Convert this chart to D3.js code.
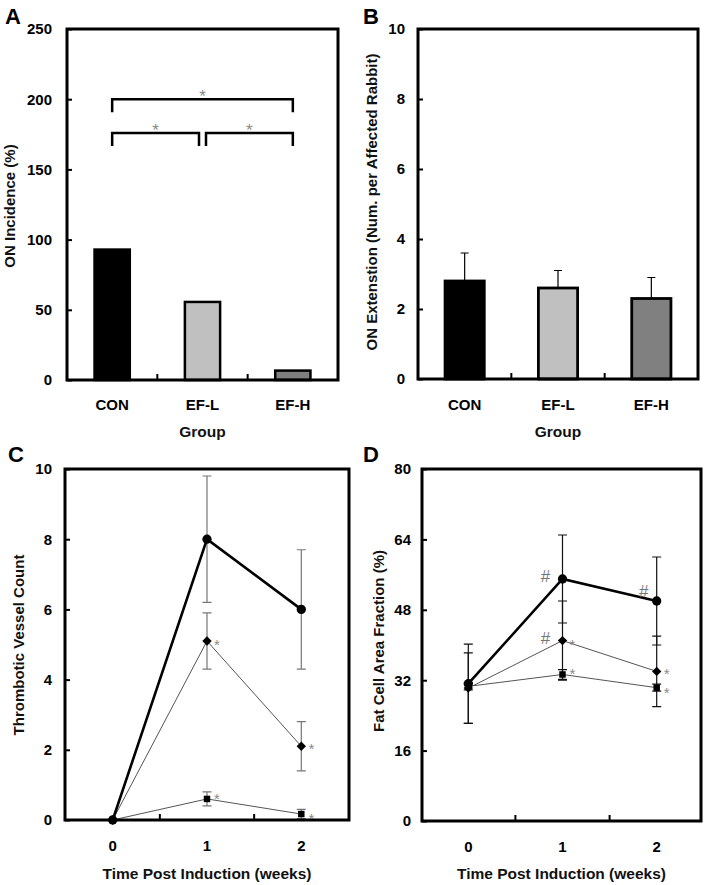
<!DOCTYPE html>
<html><head><meta charset="utf-8">
<script src="https://cdn.jsdelivr.net/npm/d3@7"></script>
<style>
body{margin:0;background:#fff;}
svg text{font-family:"Liberation Sans",Arial,sans-serif;}
</style></head><body>
<svg id="chart" width="707" height="885"></svg>
<script>
// ---------- data ----------
const groups = ["CON", "EF-L", "EF-H"];
const incidence = [92.9, 55.6, 6.7];
const incidenceTicks = [0, 50, 100, 150, 200, 250];
const bracketFrom = ["CON", "CON", "EF-L"];
const bracketTo = ["EF-H", "EF-L", "EF-H"];
const bracketLevel = [200, 176, 176];
const bracketLabel = ["*", "*", "*"];

const extension = [2.8, 2.6, 2.3];
const extensionErr = [0.8, 0.5, 0.6];
const extensionTicks = [0, 2, 4, 6, 8, 10];

const weeks = [0, 1, 2];
const thrombCON = [0, 8.0, 6.0];
const thrombCONErr = [0, 1.8, 1.7];
const thrombEFL = [0, 5.1, 2.1];
const thrombEFLErr = [0, 0.8, 0.7];
const thrombEFH = [0, 0.6, 0.17];
const thrombEFHErr = [0, 0.2, 0.13];
const thrombTicks = [0, 2, 4, 6, 8, 10];
const thrombMarks = [["EF-L", 1, "*"], ["EF-L", 2, "*"], ["EF-H", 1, "*"], ["EF-H", 2, "*"]];

const fatCON = [31.2, 55, 50];
const fatCONErr = [9, 10, 10];
const fatEFL = [30.2, 41, 34];
const fatEFLErr = [8, 9, 8];
const fatEFH = [30.6, 33.3, 30.3];
const fatEFHErr = [0.8, 1.1, 0.8];
const fatTicks = [0, 16, 32, 48, 64, 80];
const fatMarks = [["CON", 1, "#"], ["CON", 2, "#"], ["EF-L", 1, "#"], ["EF-L", 1, "*"], ["EF-L", 2, "*"], ["EF-H", 1, "*"], ["EF-H", 2, "*"]];

// ---------- helpers ----------
const svg = d3.select("#chart");
const FONT = '"Liberation Sans", Arial, sans-serif';
const barFill = {"CON": "#000000", "EF-L": "#c0c0c0", "EF-H": "#808080"};

function frame(b) {
  svg.append("rect").attr("x", b.x0).attr("y", b.y0)
    .attr("width", b.x1 - b.x0).attr("height", b.y1 - b.y0)
    .attr("fill", "none").attr("stroke", "#000").attr("stroke-width", 3);
}
function yAxis(y, ticks, x0, pad) {
  const a = svg.append("g").attr("transform", `translate(${x0},0)`)
    .call(d3.axisLeft(y).tickValues(ticks).tickSize(-5).tickPadding(pad).tickFormat(d3.format("d")));
  a.select(".domain").remove();
  a.selectAll(".tick line").attr("stroke", "#000").attr("stroke-width", 2);
  a.selectAll(".tick text").attr("font-size", 15).attr("font-weight", "bold")
    .attr("font-family", FONT).attr("fill", "#000");
}
function letter(t, x, y) {
  svg.append("text").attr("x", x).attr("y", y).attr("font-size", 22)
    .attr("font-weight", "bold").text(t);
}
function xTitle(t, x, y) {
  svg.append("text").attr("x", x).attr("y", y).attr("text-anchor", "middle")
    .attr("font-size", 15.5).attr("font-weight", "bold").attr("fill", "#111").text(t);
}
function yTitle(t, x, y) {
  svg.append("text").attr("transform", `translate(${x},${y}) rotate(-90)`)
    .attr("text-anchor", "middle").attr("font-size", 15).attr("font-weight", "bold")
    .attr("fill", "#111").text(t);
}
function minorX(xs, yBase) {
  svg.append("g").selectAll("line").data(xs).join("line")
    .attr("x1", d => d).attr("x2", d => d).attr("y1", yBase).attr("y2", yBase - 6)
    .attr("stroke", "#000").attr("stroke-width", 2);
}

// ---------- Panel A ----------
const A = {x0: 67, x1: 338, y0: 29, y1: 380};
const xA = d3.scaleBand().domain(groups).range([A.x0, A.x1]).paddingInner(0.61).paddingOuter(0.305);
const yA = d3.scaleLinear().domain([0, 250]).range([A.y1, A.y0]);
const cA = g => xA(g) + xA.bandwidth() / 2;

svg.append("g").selectAll("rect").data(groups).join("rect")
  .attr("x", g => xA(g)).attr("width", xA.bandwidth())
  .attr("y", (g, i) => yA(incidence[i])).attr("height", (g, i) => yA(0) - yA(incidence[i]))
  .attr("fill", g => barFill[g]).attr("stroke", "#000").attr("stroke-width", 2.5);

const br = svg.append("g");
bracketLevel.forEach((lv, i) => {
  const adjacent = groups.indexOf(bracketTo[i]) - groups.indexOf(bracketFrom[i]) === 1;
  const xa = cA(bracketFrom[i]) + (adjacent && bracketFrom[i] !== "CON" ? 3.5 : 0);
  const xb = cA(bracketTo[i]) - (adjacent && bracketTo[i] !== "EF-H" ? 3.5 : 0);
  const yy = yA(lv);
  br.append("path").attr("d", `M${xa},${yy + 13}V${yy}H${xb}V${yy + 13}`)
    .attr("fill", "none").attr("stroke", "#000").attr("stroke-width", 2.5);
  br.append("text").attr("x", (xa + xb) / 2).attr("y", yy + 3).attr("text-anchor", "middle")
    .attr("font-size", 17).attr("fill", "#8a8a8a").text(bracketLabel[i]);
});
yAxis(yA, incidenceTicks, A.x0, 15);
minorX(groups.slice(1).map(g => xA(g) - xA.step() * 0.61 / 2), A.y1);
svg.append("g").selectAll("text").data(groups).join("text")
  .attr("x", cA).attr("y", A.y1 + 30).attr("text-anchor", "middle")
  .attr("font-size", 15).attr("font-weight", "bold").text(d => d);
frame(A);
letter("A", 5, 24);
xTitle("Group", (A.x0 + A.x1) / 2, 437);
yTitle("ON Incidence (%)", 15, 206);

// ---------- Panel B ----------
const B = {x0: 418, x1: 698, y0: 29, y1: 379};
const xB = d3.scaleBand().domain(groups).range([B.x0, B.x1]).paddingInner(0.58).paddingOuter(0.29);
const yB = d3.scaleLinear().domain([0, 10]).range([B.y1, B.y0]);
const cB = g => xB(g) + xB.bandwidth() / 2;
const ebB = svg.append("g");
groups.forEach((g, i) => {
  const top = yB(extension[i] + extensionErr[i]);
  ebB.append("path").attr("d", `M${cB(g)},${yB(extension[i])}V${top}M${cB(g) - 4},${top}H${cB(g) + 4}`)
    .attr("stroke", "#000").attr("stroke-width", 1.2).attr("fill", "none");
});
svg.append("g").selectAll("rect").data(groups).join("rect")
  .attr("x", g => xB(g)).attr("width", xB.bandwidth())
  .attr("y", (g, i) => yB(extension[i])).attr("height", (g, i) => yB(0) - yB(extension[i]))
  .attr("fill", g => barFill[g]).attr("stroke", "#000").attr("stroke-width", 2.8);
yAxis(yB, extensionTicks, B.x0, 13);
minorX(groups.slice(1).map(g => xB(g) - xB.step() * 0.58 / 2), B.y1);
svg.append("g").selectAll("text").data(groups).join("text")
  .attr("x", cB).attr("y", B.y1 + 31).attr("text-anchor", "middle")
  .attr("font-size", 15).attr("font-weight", "bold").text(d => d);
frame(B);
letter("B", 363, 24);
xTitle("Group", (B.x0 + B.x1) / 2, 437);
yTitle("ON Extenstion (Num. per Affected Rabbit)", 377, 202);

// ---------- line panels ----------
function markerPath(type) {
  if (type === "circle") return d3.symbol(d3.symbolCircle, 68)();
  if (type === "diamond") return d3.symbol(d3.symbolSquare, 44)();
  return d3.symbol(d3.symbolSquare, 42)();
}
function linePanel(P, x, y, series, errColor, marks) {
  const g = svg.append("g");
  series.forEach(s => {
    const eb = g.append("g");
    weeks.forEach((w, i) => {
      if (!s.err[i]) return;
      const t = y(s.vals[i] + s.err[i]), b = y(Math.max(0, s.vals[i] - s.err[i]));
      eb.append("path")
        .attr("d", `M${x(w)},${t}V${b}M${x(w) - 4.5},${t}H${x(w) + 4.5}M${x(w) - 4.5},${b}H${x(w) + 4.5}`)
        .attr("stroke", errColor).attr("stroke-width", 1.2).attr("fill", "none");
    });
  });
  series.slice().reverse().forEach(s => {
    g.append("path").datum(s.vals)
      .attr("d", d3.line().x((d, i) => x(weeks[i])).y(d => y(d)))
      .attr("fill", "none").attr("stroke", s.color).attr("stroke-width", s.width);
  });
  series.forEach(s => {
    g.append("g").selectAll("path").data(s.vals).join("path")
      .attr("d", markerPath(s.marker))
      .attr("transform", (d, i) => `translate(${x(weeks[i])},${y(d)})` + (s.marker === "diamond" ? " rotate(45)" : ""))
      .attr("fill", "#000");
  });
  const byName = {};
  series.forEach(s => byName[s.name] = s);
  marks.forEach(([name, w, sym]) => {
    const s = byName[name];
    const px = x(w), py = y(s.vals[weeks.indexOf(w)]);
    if (sym === "*") {
      let dy = 0;
      if (name === "EF-H" && w === 1) dy = -4;
      if (name === "EF-H" && w === 2) dy = 1;
      if (name === "EF-L" && w === 2) dy = -1;
      g.append("text").attr("x", px + 10).attr("y", py + dy + 9).attr("text-anchor", "middle")
        .attr("font-size", 15).attr("fill", "#8a8a8a").text("*");
    } else {
      const dx = (w === 2) ? -13 : -17, dy = (w === 2) ? -10 : -3;
      g.append("text").attr("x", px + dx).attr("y", py + dy + 6).attr("text-anchor", "middle")
        .attr("font-family", '"Liberation Serif", serif').attr("font-size", 17)
        .attr("fill", "#777").text("#");
    }
  });
}

// ---------- Panel C ----------
const C = {x0: 65, x1: 349, y0: 469, y1: 820};
const xC = d3.scaleLinear().domain([0, 2]).range([112.7, 301.3]);
const yC = d3.scaleLinear().domain([0, 10]).range([C.y1, C.y0]);
linePanel(C, xC, yC, [
  {name: "CON", vals: thrombCON, err: thrombCONErr, marker: "circle", color: "#000", width: 2.6},
  {name: "EF-L", vals: thrombEFL, err: thrombEFLErr, marker: "diamond", color: "#555", width: 1},
  {name: "EF-H", vals: thrombEFH, err: thrombEFHErr, marker: "square", color: "#555", width: 1}
], "#777", thrombMarks);
yAxis(yC, thrombTicks, C.x0, 13);
minorX([0.5, 1.5].map(xC), C.y1);
svg.append("g").selectAll("text").data(weeks).join("text")
  .attr("x", xC).attr("y", C.y1 + 31).attr("text-anchor", "middle")
  .attr("font-size", 15).attr("font-weight", "bold").text(d => d);
frame(C);
letter("C", 8, 462);
xTitle("Time Post Induction (weeks)", (C.x0 + C.x1) / 2, 879);
yTitle("Thrombotic Vessel Count", 24, 645);

// ---------- Panel D ----------
const D = {x0: 422, x1: 701, y0: 469, y1: 821};
const xD = d3.scaleLinear().domain([0, 2]).range([468.3, 656.7]);
const yD = d3.scaleLinear().domain([0, 80]).range([D.y1, D.y0]);
linePanel(D, xD, yD, [
  {name: "CON", vals: fatCON, err: fatCONErr, marker: "circle", color: "#000", width: 2.6},
  {name: "EF-L", vals: fatEFL, err: fatEFLErr, marker: "diamond", color: "#555", width: 1},
  {name: "EF-H", vals: fatEFH, err: fatEFHErr, marker: "square", color: "#555", width: 1}
], "#111", fatMarks);
yAxis(yD, fatTicks, D.x0, 11);
minorX([0.5, 1.5].map(xD), D.y1);
svg.append("g").selectAll("text").data(weeks).join("text")
  .attr("x", xD).attr("y", D.y1 + 31).attr("text-anchor", "middle")
  .attr("font-size", 15).attr("font-weight", "bold").text(d => d);
frame(D);
letter("D", 363, 462);
xTitle("Time Post Induction (weeks)", (D.x0 + D.x1) / 2, 879);
yTitle("Fat Cell Area Fraction (%)", 384, 641);
</script>
</body></html>
